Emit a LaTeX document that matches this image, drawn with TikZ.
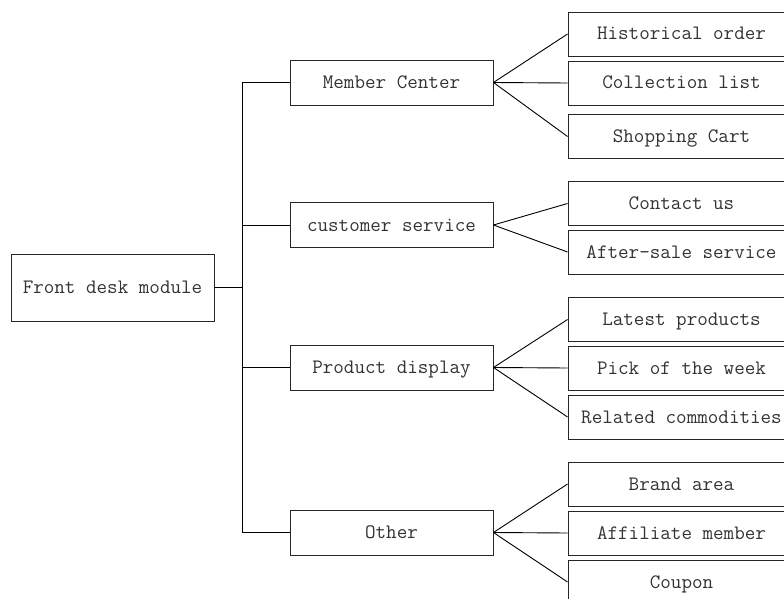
\documentclass[tikz,border=0pt]{standalone}
\usepackage{fontspec}
\begin{document}
\begin{tikzpicture}[x=1pt,y=-1pt,
  box/.style={draw=black!85, line width=0.9pt, inner sep=0pt,
    font=\ttfamily\fontsize{20.5}{21}\selectfont, text=black!80,
    text height=15pt, text depth=3pt},
  rootbox/.style={box, minimum width=203pt, minimum height=67pt},
  midbox/.style={box, minimum width=203pt, minimum height=45pt},
  leafbox/.style={box, minimum width=227pt, minimum height=44pt},
  link/.style={line width=0.9pt, draw=black},
  trunk/.style={line width=1.4pt, draw=black}]
\useasboundingbox (0,0) rectangle (784,599);
\clip (0,0) rectangle (784,599);

% root
\node[rootbox] (root) at (112.5,287.5) {Front desk module};

% second level
\node[midbox] (mc) at (391.5,82.5)  {Member Center};
\node[midbox] (cs) at (391.5,225)   {customer service};
\node[midbox] (pd) at (391.5,367.5) {Product display};
\node[midbox] (ot) at (391.5,532.5) {Other};

% third level
\node[leafbox] (ho) at (681.5,34)  {Historical order};
\node[leafbox] (cl) at (681.5,83)  {Collection list};
\node[leafbox] (sc) at (681.5,136.5) {Shopping Cart};
\node[leafbox] (cu) at (681.5,203.5) {Contact us};
\node[leafbox] (as) at (681.5,252) {After-sale service};
\node[leafbox] (lp) at (681.5,319.5) {Latest products};
\node[leafbox] (pw) at (681.5,368) {Pick of the week};
\node[leafbox] (rc) at (681.5,417) {Related commodities};
\node[leafbox] (ba) at (681.5,484) {Brand area};
\node[leafbox] (am) at (681.5,533) {Affiliate member};
\node[leafbox] (cp) at (681.5,582) {Coupon};

% trunk from the root to the second level
\coordinate (t) at (242,287.5);
\draw[trunk] (root.east) -- (t);
\draw[link] (t |- mc.west) -- (t |- ot.west);
\foreach \n in {mc,cs,pd,ot}
  \draw[link] (t |- \n.west) -- (\n.west);

% fan-out to the third level
\foreach \n in {ho,cl,sc} \draw[link] (mc.east) -- (\n.west);
\foreach \n in {cu,as}    \draw[link] (cs.east) -- (\n.west);
\foreach \n in {lp,pw,rc} \draw[link] (pd.east) -- (\n.west);
\foreach \n in {ba,am,cp} \draw[link] (ot.east) -- (\n.west);
\end{tikzpicture}
\end{document}
